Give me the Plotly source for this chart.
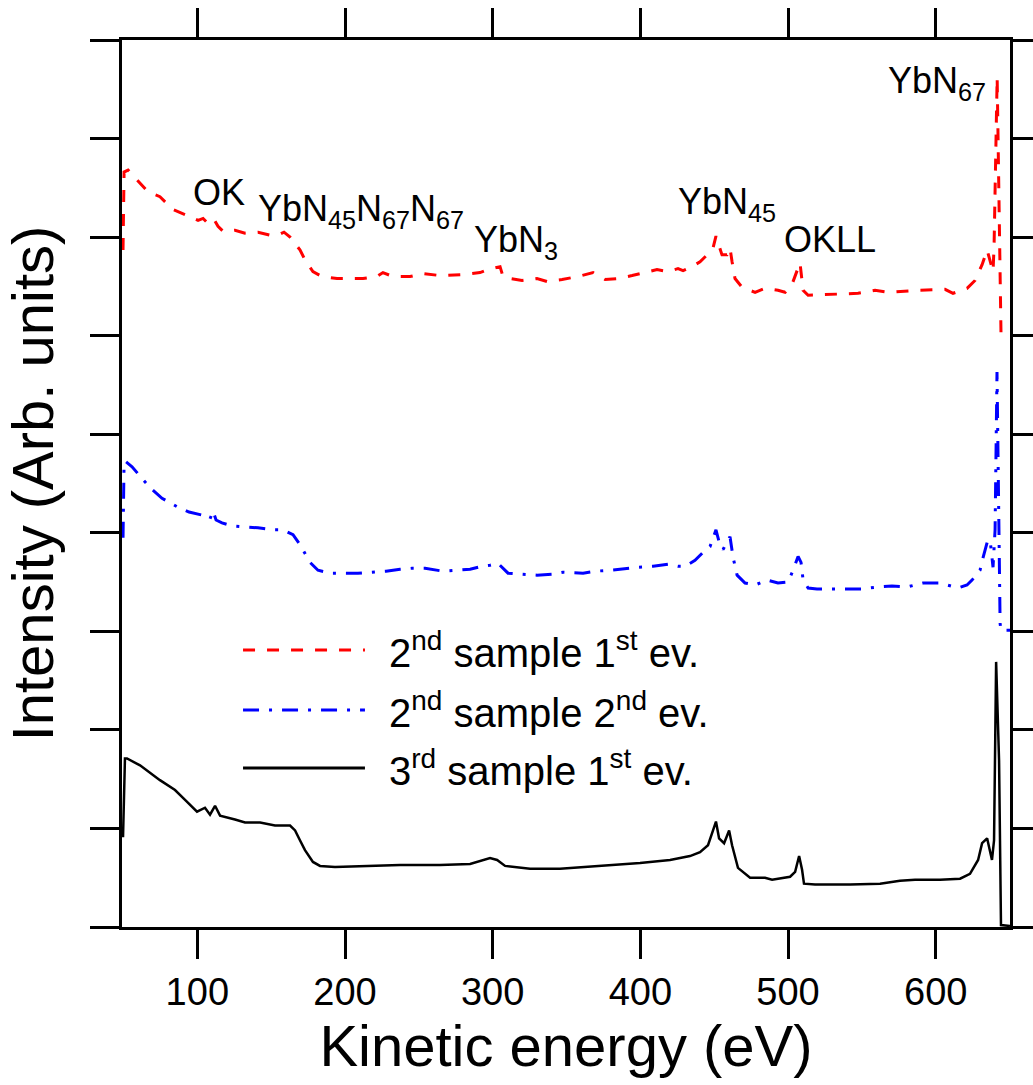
import plotly.graph_objects as go

# ---- data (kinetic energy in eV, intensity in arb. units, curves already offset) ----
red_x = [49.7, 50.4, 53.1, 59.2, 66.6, 74.7, 83.5, 93.0, 100.5, 103.9, 107.2, 111.3, 114.0, 117.4,
         125.5, 132.3, 141.1, 149.2, 154.6, 158.7, 162.8, 169.5, 173.6, 178.3, 184.4, 194.6, 212.2,
         221.7, 225.7, 232.5, 244.0, 252.8, 264.3, 279.9, 291.4, 296.8, 305.0, 307.0, 311.7, 319.9,
         330.0, 336.8, 347.0, 357.8, 368.0, 376.1, 384.9, 394.4, 403.2, 411.3, 418.7, 425.5, 428.9,
         435.0, 440.4, 445.2, 449.2, 451.2, 453.3, 455.3, 458.7, 460.7, 462.1, 464.1, 468.9, 477.7,
         484.4, 493.2, 498.0, 502.7, 508.1, 510.2, 513.6, 528.5, 547.4, 558.9, 567.7, 587.4, 606.3,
         611.7, 621.2, 626.6, 631.4, 634.8, 636.8, 638.8, 639.5, 641.6, 644.2, 650.3]
red_y = [6.87, 7.66, 7.68, 7.58, 7.46, 7.41, 7.28, 7.22, 7.17, 7.19, 7.14, 7.18, 7.11, 7.06,
         7.07, 7.04, 7.05, 7.02, 7.02, 7.05, 7.00, 6.87, 6.75, 6.65, 6.60, 6.58, 6.58,
         6.60, 6.64, 6.60, 6.60, 6.63, 6.61, 6.62, 6.64, 6.67, 6.70, 6.60, 6.58, 6.56,
         6.58, 6.55, 6.57, 6.60, 6.64, 6.57, 6.58, 6.61, 6.64, 6.67, 6.65, 6.68, 6.66,
         6.70, 6.75, 6.82, 6.89, 7.01, 6.91, 6.82, 6.82, 6.89, 6.75, 6.58, 6.49, 6.44,
         6.48, 6.46, 6.44, 6.52, 6.74, 6.46, 6.41, 6.42, 6.43, 6.46, 6.44, 6.46, 6.47,
         6.43, 6.48, 6.56, 6.72, 6.87, 6.75, 6.65, 6.90, 8.62, 6.03, 6.01]

blue_x = [49.7, 50.4, 51.7, 55.8, 63.2, 69.3, 76.1, 86.9, 94.4, 103.2, 108.6, 110.6, 112.7, 116.7,
          123.5, 133.6, 141.1, 151.3, 158.0, 164.8, 169.5, 176.3, 181.7, 189.9, 200.0, 208.8,
          218.3, 227.8, 237.3, 245.4, 254.2, 266.4, 275.9, 284.7, 292.8, 298.2, 303.6, 307.0,
          310.4, 319.9, 330.0, 340.2, 347.6, 361.2, 369.3, 379.5, 391.0, 398.4, 408.6, 418.7,
          425.5, 430.3, 437.0, 442.4, 447.2, 451.2, 453.3, 456.0, 458.7, 460.7, 462.8, 465.5,
          470.9, 477.7, 485.8, 493.2, 500.0, 503.4, 506.8, 508.8, 510.2, 513.6, 519.6, 531.8,
          540.6, 550.1, 560.9, 570.4, 580.6, 591.4, 599.5, 602.9, 615.1, 621.2, 624.6, 630.0,
          632.1, 634.8, 636.8, 638.8, 640.2, 641.5, 643.6, 644.2, 650.3]
blue_y = [3.95, 4.72, 4.72, 4.67, 4.54, 4.44, 4.35, 4.26, 4.21, 4.18, 4.14, 4.22, 4.13, 4.10,
          4.07, 4.06, 4.05, 4.03, 4.03, 3.98, 3.88, 3.70, 3.62, 3.59, 3.59, 3.59,
          3.60, 3.61, 3.63, 3.64, 3.64, 3.61, 3.62, 3.63, 3.66, 3.67, 3.69, 3.64,
          3.59, 3.58, 3.57, 3.58, 3.60, 3.59, 3.61, 3.62, 3.64, 3.65, 3.66, 3.68,
          3.66, 3.66, 3.72, 3.80, 3.86, 4.03, 3.91, 3.83, 3.91, 3.96, 3.75, 3.57,
          3.49, 3.47, 3.52, 3.49, 3.50, 3.62, 3.76, 3.70, 3.52, 3.44, 3.43, 3.43,
          3.43, 3.43, 3.45, 3.46, 3.45, 3.49, 3.49, 3.49, 3.44, 3.47, 3.52, 3.62,
          3.75, 3.90, 3.93, 3.65, 4.03, 5.63, 3.08, 3.01, 3.01]

black_x = [49.7, 51.0, 52.4, 61.2, 74.7, 84.9, 91.7, 95.0, 99.8, 105.2, 108.6, 112.0, 115.4,
           125.5, 132.3, 142.5, 152.6, 162.8, 166.2, 169.5, 172.9, 178.3, 183.1, 193.2, 210.2,
           237.3, 264.3, 284.7, 298.2, 303.0, 308.4, 325.3, 345.6, 372.7, 399.8, 420.1, 433.6,
           440.4, 445.8, 449.2, 451.2, 453.3, 456.7, 460.1, 462.1, 466.1, 474.3, 484.4, 489.2,
           501.4, 504.8, 507.5, 509.5, 510.8, 518.3, 542.0, 562.3, 575.8, 586.0, 602.9, 616.5,
           623.2, 628.7, 631.4, 634.8, 638.1, 639.5, 640.9, 642.9, 644.2, 650.3]
black_y = [0.91, 1.71, 1.71, 1.64, 1.49, 1.39, 1.29, 1.24, 1.17, 1.21, 1.14, 1.23, 1.13,
           1.09, 1.06, 1.06, 1.03, 1.03, 0.98, 0.88, 0.78, 0.66, 0.62, 0.61, 0.62,
           0.63, 0.63, 0.64, 0.70, 0.68, 0.62, 0.59, 0.59, 0.62, 0.65, 0.68, 0.72,
           0.76, 0.83, 0.98, 1.07, 0.90, 0.85, 0.98, 0.83, 0.60, 0.50, 0.50, 0.48,
           0.51, 0.56, 0.72, 0.58, 0.44, 0.43, 0.43, 0.44, 0.47, 0.48, 0.48, 0.49,
           0.54, 0.68, 0.85, 0.90, 0.68, 0.88, 2.69, 1.69, 0.02, 0.01]

series_names = ["2<sup>nd</sup> sample 1<sup>st</sup> ev.",
                "2<sup>nd</sup> sample 2<sup>nd</sup> ev.",
                "3<sup>rd</sup> sample 1<sup>st</sup> ev."]

x_ticks = [100, 200, 300, 400, 500, 600]
y_ticks = [0, 1, 2, 3, 4, 5, 6, 7, 8, 9]

peak_labels = ["OK", "YbN<sub>45</sub>N<sub>67</sub>N<sub>67</sub>", "YbN<sub>3</sub>",
               "YbN<sub>45</sub>", "OKLL", "YbN<sub>67</sub>"]
peak_label_x = [96.0, 139.8, 286.2, 424.3, 496.1, 566.5]
peak_label_y = [7.45, 7.27, 6.95, 7.34, 6.98, 8.56]

FONT = "Liberation Sans, Arial, sans-serif"
RED_DASH = "12px,12px"
BLUE_DASH = "16px,10px,3px,10px"

fig = go.Figure()
fig.add_trace(go.Scatter(x=red_x, y=red_y, mode="lines", name=series_names[0],
                         line=dict(color="#ff0000", width=3, dash=RED_DASH)))
fig.add_trace(go.Scatter(x=blue_x, y=blue_y, mode="lines", name=series_names[1],
                         line=dict(color="#0000ff", width=3, dash=BLUE_DASH)))
fig.add_trace(go.Scatter(x=black_x, y=black_y, mode="lines", name=series_names[2],
                         line=dict(color="#000000", width=2.5)))

# peak labels
for t, xv, yv in zip(peak_labels, peak_label_x, peak_label_y):
    fig.add_annotation(x=xv, y=yv, text=t, showarrow=False, xanchor="left", yanchor="middle",
                       font=dict(family=FONT, size=36, color="black"))

# custom legend (long line samples like the original)
legend_rows_y = [0.3123, 0.2446, 0.1793]
legend_colors = ["#ff0000", "#0000ff", "#000000"]
legend_dashes = [RED_DASH, BLUE_DASH, "solid"]
for name, ly, c, d in zip(series_names, legend_rows_y, legend_colors, legend_dashes):
    fig.add_shape(type="line", xref="paper", yref="paper", x0=0.1363, x1=0.2736, y0=ly, y1=ly,
                  line=dict(color=c, width=3, dash=d))
    fig.add_annotation(xref="paper", yref="paper", x=0.2985, y=ly, text=name, showarrow=False,
                       xanchor="left", yanchor="middle",
                       font=dict(family=FONT, size=40, color="black"))

fig.update_layout(
    width=1033, height=1085,
    margin=dict(l=122, r=23, t=40, b=158, autoexpand=False),
    paper_bgcolor="white", plot_bgcolor="white",
    showlegend=False,
    font=dict(family=FONT, color="black"),
)
fig.update_xaxes(
    range=[49, 650.3], tickvals=x_ticks, ticks="outside", ticklen=29, tickwidth=3,
    tickcolor="black", showline=True, linewidth=3, linecolor="black", mirror="ticks",
    showgrid=False, zeroline=False, automargin=False,
    tickfont=dict(family=FONT, size=38, color="black"),
    title=dict(text="Kinetic energy (eV)", font=dict(family=FONT, size=58, color="black"),
               standoff=2),
)
fig.update_yaxes(
    range=[0, 9], tickvals=y_ticks, ticks="outside", ticklen=29, tickwidth=3,
    tickcolor="black", showline=True, linewidth=3, linecolor="black", mirror="ticks",
    showgrid=False, zeroline=False, showticklabels=False, automargin=False,
    title=dict(text="Intensity (Arb. units)", font=dict(family=FONT, size=58, color="black"),
               standoff=20),
)

fig.write_html("out.html")
